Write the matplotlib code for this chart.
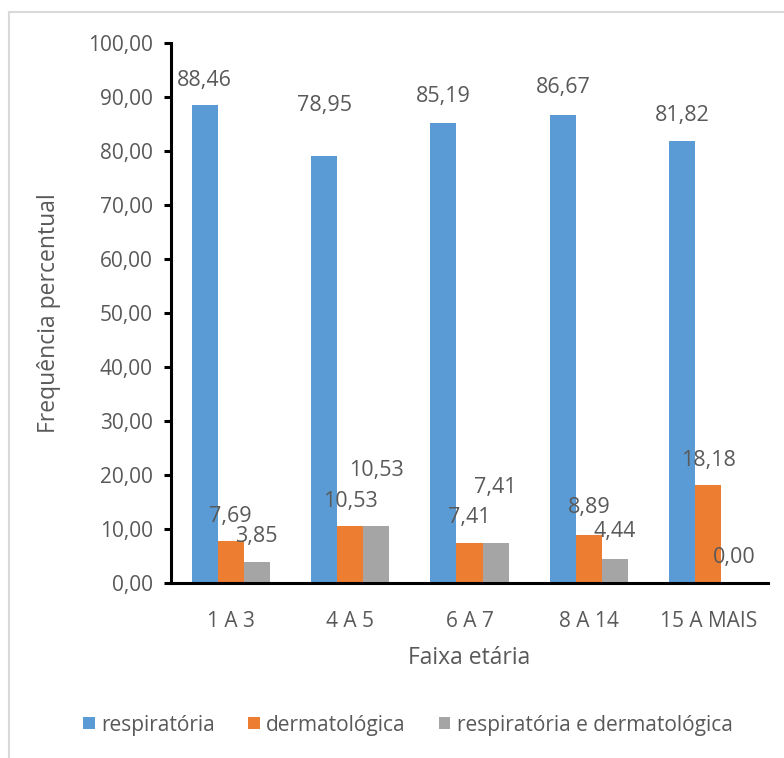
import matplotlib
matplotlib.use("Agg")
import matplotlib.pyplot as plt
from matplotlib.lines import Line2D
import numpy as np

# Age groups and share (%) of each complaint type
faixas = ["1 A 3", "4 A 5", "6 A 7", "8 A 14", "15 A MAIS"]
respiratoria = [88.46, 78.95, 85.19, 86.67, 81.82]
dermatologica = [7.69, 10.53, 7.41, 8.89, 18.18]
resp_derm = [3.85, 10.53, 7.41, 4.44, 0.00]

series_names = ["respiratória", "dermatológica", "respiratória e dermatológica"]
colors = ["#5B9BD5", "#ED7D31", "#A5A5A5"]
# vertical distance (px) between bar top and the centre of its value label
label_lift = [
    [25, 51, 26, 27, 25],
    [25, 25, 25, 27, 24],
    [26, 56, 55, 28, 25],
]

plt.rcParams["font.family"] = ["Open Sans", "DejaVu Sans"]
TXT = "#595959"

W, H = 784, 758
fig = plt.figure(figsize=(W / 100, H / 100), dpi=100)
ax = fig.add_axes([171 / W, 1 - 583 / H, 597 / W, (583 - 42.7) / H])

x = np.arange(len(faixas))
bw = 0.218
for i, (vals, name, col) in enumerate(zip([respiratoria, dermatologica, resp_derm],
                                          series_names, colors)):
    pos = x + (i - 1) * bw
    ax.bar(pos, vals, width=bw, color=col, label=name, zorder=2)
    for xp, v, lift in zip(pos, vals, label_lift[i]):
        ax.annotate(f"{v:.2f}".replace(".", ","), (xp, v),
                    xytext=(0, lift * 0.72), textcoords="offset points",
                    ha="center", va="center", fontsize=15.5, color=TXT)

ax.set_xlim(-0.5, len(faixas) - 0.5)
ax.set_ylim(0, 100)
ax.set_yticks(np.arange(0, 101, 10))
ax.set_yticklabels([f"{v:.2f}".replace(".", ",") for v in np.arange(0, 101, 10)])
ax.set_xticks(x)
ax.set_xticklabels(faixas)

for s in ["top", "right"]:
    ax.spines[s].set_visible(False)
for s in ["left", "bottom"]:
    ax.spines[s].set_linewidth(2.2)
    ax.spines[s].set_color("black")
ax.tick_params(axis="y", length=5, width=2.2, color="black", labelsize=15,
               labelcolor=TXT, pad=8)
ax.tick_params(axis="x", length=0, labelsize=15, labelcolor=TXT, pad=20)

ax.set_ylabel("Frequência percentual", fontsize=16.5, color=TXT)
ax.yaxis.set_label_coords(-0.185, 0.5)
ax.set_xlabel("Faixa etária", fontsize=16.5, color=TXT, labelpad=10)

fig.legend(loc="center", bbox_to_anchor=(408 / W, 1 - 725 / H), ncol=3,
           frameon=False, fontsize=15, labelcolor=TXT,
           handlelength=0.55, handleheight=0.55, handletextpad=0.3,
           columnspacing=1.6)

# light frame around the chart area
fig.add_artist(Line2D([8.5 / W, 8.5 / W], [0, 1 - 12 / H], color="#D9D9D9",
                      lw=1.5, transform=fig.transFigure))
fig.add_artist(Line2D([8.5 / W, 1], [1 - 12 / H, 1 - 12 / H], color="#D9D9D9",
                      lw=1.5, transform=fig.transFigure))

fig.savefig("out.png", dpi=100)
